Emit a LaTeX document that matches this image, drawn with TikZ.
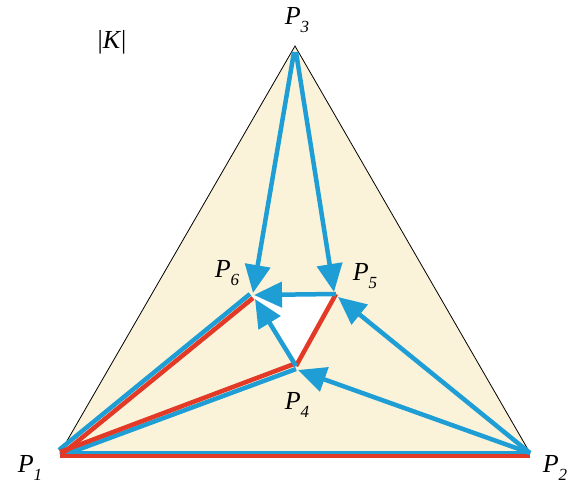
\documentclass[tikz,border=0pt]{standalone}
\usepackage{fontspec}
\setmainfont{Liberation Serif}
\usepackage{tikz}
\usetikzlibrary{arrows.meta, calc}
\definecolor{cxblue}{RGB}{30,158,212}
\definecolor{cxred}{RGB}{226,58,38}
\definecolor{cxcream}{RGB}{250,243,218}
\newcommand{\vname}[1]{\textit{P}\raisebox{-0.28em}{\fontsize{17}{20}\selectfont\itshape #1}}
\tikzset{
	edge/.style={cxblue, line width=4.5pt},
	arr/.style={edge, -{Triangle[length=28pt, width=25pt]}},
	redge/.style={cxred, line width=4.5pt},
	vlab/.style={font=\fontsize{26}{30}\selectfont}
}

\begin{document}
\begin{tikzpicture}[x=1pt, y=-1pt]
	\useasboundingbox (0,0) rectangle (571,488);
	% vertices
	\coordinate (p1) at (60,453);
	\coordinate (p2) at (530,453);
	\coordinate (p3) at (295,46);
	\coordinate (p4) at (296,366);
	\coordinate (p5) at (336,294);
	\coordinate (p6) at (252,296);
	% faces
	\fill[cxcream] (p1) -- (p2) -- (p3) -- cycle;
	\draw[black, line width=0.8pt] (p1) -- (p2) -- (p3) -- cycle;
	\fill[white] (p4) -- (p5) -- (p6) -- cycle;
	% blue edges from P1
	\draw[edge] (p1) -- (p2);
	\draw[edge] ($(p1)+(-1,-3)$) -- ($(p6)+(-2,-2)$);
	\draw[edge] ($(p1)+(1,3)$) -- ($(p4)+(0,3)$);
	% red edges
	\draw[redge] ($(p1)+(0,3)$) -- ($(p2)+(0,3)$);
	\draw[redge] ($(p1)+(2,1)$) -- ($(p6)+(1,2)$);
	\draw[redge] ($(p1)+(0,-1)$) -- ($(p4)+(-2,-2)$);
	\draw[redge] (p4) -- (p5);
	% arrows
	\draw[arr] ($(p3)+(-1,6)$) -- ($(p6)+(1,-3)$);
	\draw[arr] ($(p3)+(1,6)$) -- ($(p5)+(-2,-2)$);
	\draw[arr] (p5) -- ($(p6)+(2,-1)$);
	\draw[arr] (p4) -- ($(p6)+(3,3)$);
	\draw[arr] (p2) -- ($(p5)+(2,3)$);
	\draw[arr] (p2) -- ($(p4)+(2,4)$);
	% labels
	\node[vlab] (l1) at (30,468) {\vname{1}};
	\node[vlab] (l2) at (555,468) {\vname{2}};
	\node[vlab] (l3) at (297,20) {\vname{3}};
	\node[vlab] (l4) at (297,405) {\vname{4}};
	\node[vlab] (l5) at (365,276) {\vname{5}};
	\node[vlab] (l6) at (227,273) {\vname{6}};
	\node[vlab] (lk) at (112,42) {|\textit{K}|};
\end{tikzpicture}
\end{document}
